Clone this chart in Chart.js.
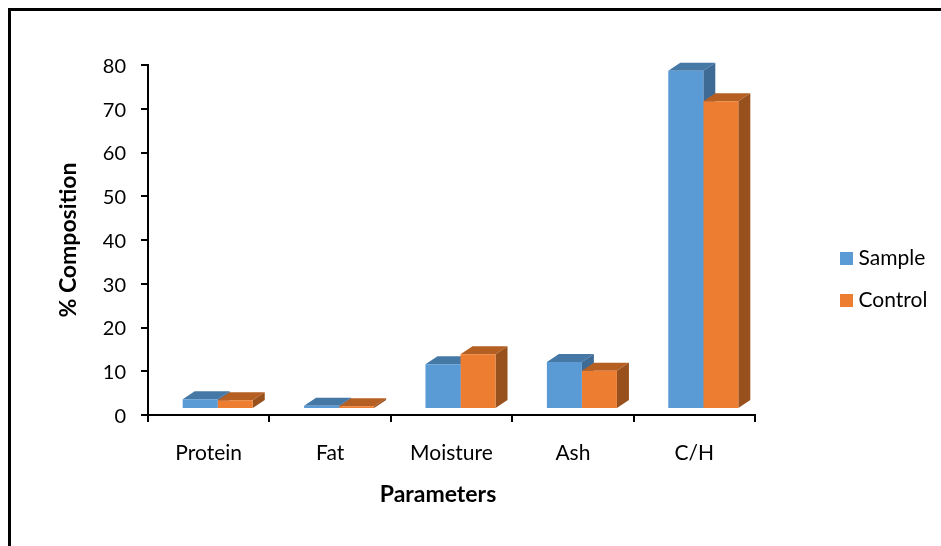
<!DOCTYPE html>
<html>
<head>
<meta charset="utf-8">
<title>Composition</title>
<script src="https://cdn.jsdelivr.net/npm/chart.js@4/dist/chart.umd.min.js"></script>
<style>
  html, body { margin: 0; padding: 0; background: #fff; overflow: hidden; }
  #wrap { position: relative; width: 941px; height: 546px; }
  #frame { position: absolute; left: 8px; top: 8px; right: 0; bottom: 0; border-left: 3px solid #000; border-top: 3px solid #000; }
  canvas { position: absolute; left: 0; top: 0; }
</style>
</head>
<body>
<div id="wrap">
  <div id="frame"></div>
  <canvas id="chart" width="941" height="546"></canvas>
</div>
<script>
const categories = ["Protein", "Fat", "Moisture", "Ash", "C/H"];
const sampleValues = [3.6, 2.1, 11.6, 12.1, 78.7];
const controlValues = [3.4, 2.0, 13.9, 10.1, 71.7];
const yTitle = "% Composition";
const xTitle = "Parameters";
const floorValue = 1.6; // bars stand on the 3D floor, a bit above the axis

const fontFamily = "Lato, 'Open Sans', sans-serif";
const depthX = 12;
const depthY = 8;
const barShift = 9;

const sampleShades = { front: "#5b9bd5", top: "#4678a6", side: "#3e6a96" };
const controlShades = { front: "#ed7d31", top: "#b55f22", side: "#98511c" };

function drawDepth(ctx, meta, shades) {
  for (const bar of meta.data) {
    const left = bar.x - bar.width / 2 + barShift;
    const right = bar.x + bar.width / 2 + barShift;
    ctx.fillStyle = shades.top;
    ctx.beginPath();
    ctx.moveTo(left, bar.y);
    ctx.lineTo(left + depthX, bar.y - depthY);
    ctx.lineTo(right + depthX, bar.y - depthY);
    ctx.lineTo(right, bar.y);
    ctx.fill();
    ctx.fillStyle = shades.side;
    ctx.beginPath();
    ctx.moveTo(right, bar.y);
    ctx.lineTo(right + depthX, bar.y - depthY);
    ctx.lineTo(right + depthX, bar.base - depthY);
    ctx.lineTo(right, bar.base);
    ctx.fill();
  }
}

const bars3d = {
  id: "bars3d",
  beforeDatasetDraw(chart, args) {
    const ctx = chart.ctx;
    // control is painted first by Chart.js, so both depth faces go in before it
    if (args.index === 1) {
      drawDepth(ctx, chart.getDatasetMeta(0), sampleShades);
      drawDepth(ctx, chart.getDatasetMeta(1), controlShades);
    }
    ctx.save();
    ctx.translate(barShift, 0);
  },
  afterDatasetDraw(chart) {
    chart.ctx.restore();
  }
};

const placeLegend = {
  id: "placeLegend",
  beforeInit(chart) {
    const fit = chart.legend.fit;
    chart.legend.fit = function () {
      fit.call(this);
      this.width = 186;
    };
  },
  afterLayout(chart) {
    chart.legend.left = 824;
    chart.legend.top = 227;
  }
};

const xAxisTitle = {
  id: "xAxisTitle",
  afterDraw(chart) {
    const ctx = chart.ctx;
    ctx.save();
    ctx.font = "bold 23px " + fontFamily;
    ctx.fillStyle = "#000";
    ctx.textAlign = "center";
    ctx.textBaseline = "middle";
    ctx.fillText(xTitle, 438, 495);
    ctx.restore();
  }
};

new Chart(document.getElementById("chart"), {
  type: "bar",
  data: {
    labels: categories,
    datasets: [
      { label: "Sample", data: sampleValues, backgroundColor: sampleShades.front, base: floorValue },
      { label: "Control", data: controlValues, backgroundColor: controlShades.front, base: floorValue }
    ]
  },
  plugins: [bars3d, placeLegend, xAxisTitle],
  options: {
    responsive: false,
    animation: false,
    categoryPercentage: 0.577,
    barPercentage: 1,
    layout: { padding: { left: 0, top: 65, right: 0, bottom: 0 } },
    plugins: {
      tooltip: { enabled: false },
      legend: {
        position: "right",
        align: "start",
        labels: {
          boxWidth: 3,
          boxHeight: 3,
          padding: 21,
          color: "#000",
          font: { family: fontFamily, size: 21 },
          generateLabels(chart) {
            const items = Chart.defaults.plugins.legend.labels.generateLabels(chart);
            return items.map(item => ({ ...item, strokeStyle: item.fillStyle, lineWidth: 10 }));
          }
        }
      }
    },
    scales: {
      x: {
        afterFit(scale) { scale.height = 131; },
        border: { color: "#000", width: 2 },
        grid: { color: "#000", lineWidth: 2, tickLength: 7, drawOnChartArea: false },
        ticks: { color: "#000", padding: 19, maxRotation: 0, font: { family: fontFamily, size: 21 } }
      },
      y: {
        min: 0,
        max: 80,
        afterFit(scale) { scale.width = 148; },
        border: { color: "#000", width: 2 },
        grid: { color: "#000", lineWidth: 2, tickLength: 7, drawOnChartArea: false },
        ticks: { color: "#000", stepSize: 10, padding: 15, labelOffset: 1.5, font: { family: fontFamily, size: 20 } },
        title: {
          display: true,
          text: yTitle,
          color: "#000",
          padding: { top: 55, bottom: 0 },
          font: { family: fontFamily, size: 23, weight: "bold" }
        }
      }
    }
  }
});
</script>
</body>
</html>
